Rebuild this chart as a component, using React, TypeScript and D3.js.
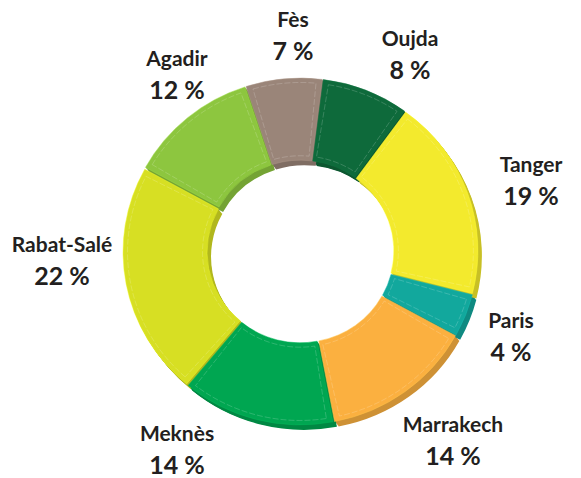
import React from "react";
import * as d3 from "d3";

const names = ["Oujda", "Tanger", "Paris", "Marrakech", "Meknès", "Rabat-Salé", "Agadir", "Fès"];
const values = [8, 19, 4, 14, 14, 22, 12, 7];
const colors = ["#0e6a3b", "#f3ea2d", "#12a89d", "#fbb040", "#00a651", "#d7df23", "#8dc63f", "#9a8579"];

// label layout: [center x, name baseline y]
const labelLayout: [number, number][] = [
  [410, 46],
  [531, 172],
  [511, 328],
  [453, 432],
  [177, 441],
  [62, 252],
  [177, 66],
  [293, 27],
];

const W = 581;
const H = 478;
const CX = 300.5;
const CY = 251.5;
const RO = 175.5;
const RI = 91.5;
const SY = 0.977;
const EXPLODE = 2;
const EXT_X = 4;
const EXT_Y = 5;
const START = 0.02 * 2 * Math.PI;

export default function App() {
  const total = d3.sum(values);
  const pie = d3
    .pie<number>()
    .sort(null)
    .value((d) => d)
    .startAngle(START)
    .endAngle(START + 2 * Math.PI);
  const arcs = pie(values);
  const arc = d3.arc<d3.PieArcDatum<number>>().innerRadius(RI).outerRadius(RO);
  const inset = 4.5;
  const bevel = (a: d3.PieArcDatum<number>) =>
    d3.arc()({
      innerRadius: RI + inset,
      outerRadius: RO - inset,
      startAngle: a.startAngle + inset / ((RI + RO) / 2),
      endAngle: a.endAngle - inset / ((RI + RO) / 2),
    } as any) as string;

  const off = (a: d3.PieArcDatum<number>) => {
    const m = (a.startAngle + a.endAngle) / 2;
    return [Math.sin(m) * EXPLODE, -Math.cos(m) * EXPLODE];
  };

  const steps = d3.range(1, 7);

  return (
    <svg
      width={W}
      height={H}
      style={{ position: "absolute", left: 0, top: 0, background: "#fff" }}
      fontFamily="Lato, 'Open Sans', sans-serif"
    >
      {/* extrusion */}
      {steps.map((k) => (
        <g key={"e" + k} transform={`translate(${(EXT_X * k) / 6},${(EXT_Y * k) / 6})`}>
          <g transform={`translate(${CX},${CY}) scale(1,${SY})`}>
            {arcs.map((a, i) => {
              const [ox, oy] = off(a);
              return (
                <path
                  key={i}
                  d={arc(a) as string}
                  transform={`translate(${ox},${oy})`}
                  fill={d3.color(colors[i])!.darker(0.55).formatHex()}
                />
              );
            })}
          </g>
        </g>
      ))}
      {/* faces */}
      <g transform={`translate(${CX},${CY}) scale(1,${SY})`}>
        {arcs.map((a, i) => {
          const [ox, oy] = off(a);
          return (
            <g key={i} transform={`translate(${ox},${oy})`}>
              <path
                d={arc(a) as string}
                fill={colors[i]}
                stroke={d3.color(colors[i])!.brighter(0.3).formatHex()}
                strokeWidth={0.5}
              />
              <path
                d={bevel(a)}
                fill="none"
                stroke="#ffffff"
                strokeOpacity={0.3}
                strokeWidth={0.6}
                strokeDasharray="6 2"
              />
            </g>
          );
        })}
      </g>
      {/* labels */}
      {arcs.map((a, i) => {
        const [x, y] = labelLayout[i];
        const pct = Math.round((values[i] / total) * 100);
        return (
          <g key={"l" + i} fill="#231f20" fontWeight={700} textAnchor="middle">
            <text x={x} y={y} fontSize={21}>
              {names[i]}
            </text>
            <text x={x} y={y + 33} fontSize={25}>
              {pct + " %"}
            </text>
          </g>
        );
      })}
    </svg>
  );
}
